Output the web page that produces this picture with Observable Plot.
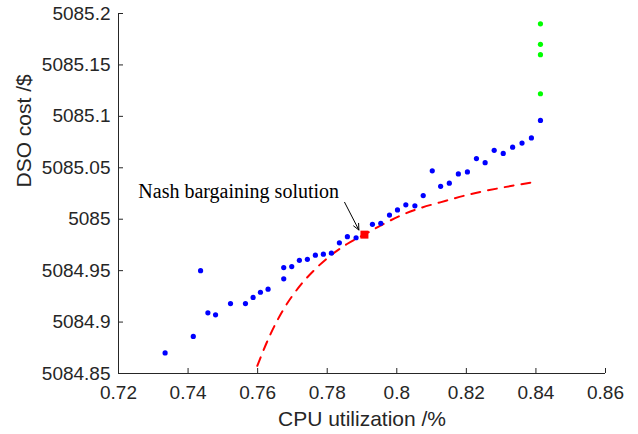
<!DOCTYPE html>
<html><head><meta charset="utf-8">
<script src="https://cdn.jsdelivr.net/npm/d3@7"></script>
<script src="https://cdn.jsdelivr.net/npm/@observablehq/plot@0.6"></script>
<style>body{margin:0;background:#fff;}</style>
</head><body><div id="chart"></div>
<script>
// Blue scatter (CPU utilization, DSO cost)
const blueX = [0.7334,0.7415,0.7436,0.7457,0.7479,0.7522,0.7565,0.7587,0.7608,0.7630,0.7675,0.7675,0.7698,0.7720,0.7743,0.7766,0.7789,0.7812,0.7835,0.7858,0.7883,0.7930,0.7954,0.7979,0.8002,0.8026,0.8052,0.8076,0.8102,0.8126,0.8151,0.8177,0.8203,0.8229,0.8254,0.8280,0.8306,0.8333,0.8360,0.8387,0.8413];
const blueY = [5084.870,5084.886,5084.950,5084.909,5084.907,5084.918,5084.918,5084.924,5084.929,5084.932,5084.942,5084.953,5084.954,5084.960,5084.961,5084.965,5084.966,5084.967,5084.977,5084.983,5084.982,5084.995,5084.996,5085.004,5085.009,5085.014,5085.013,5085.023,5085.047,5085.032,5085.035,5085.044,5085.046,5085.059,5085.055,5085.067,5085.064,5085.070,5085.074,5085.079,5085.096];
// Green points
const greenX = [0.8413,0.8413,0.8413,0.8413];
const greenY = [5085.122,5085.160,5085.170,5085.190];
// Red dashed curve
const curveX = [0.7599,0.7637,0.7675,0.7718,0.7766,0.7809,0.7857,0.7905,0.7953,0.8010,0.8068,0.8125,0.8206,0.8307,0.8396];
const curveY = [5084.8575,5084.8883,5084.9127,5084.9337,5084.9516,5084.9645,5084.9759,5084.9847,5084.9937,5085.0034,5085.0109,5085.0164,5085.0239,5085.0310,5085.0362];
// Nash bargaining solution
const nashX = [0.7907];
const nashY = [5084.985];
const annotationText = ["Nash bargaining solution"];
const annotationAt = [0.7257, 5085.021];
const arrowFrom = [0.7850, 5085.0164];
const arrowTo = [0.7891, 5084.9895];
// Ticks
const xTicks = [0.72,0.74,0.76,0.78,0.8,0.82,0.84,0.86];
const xTickLabels = ["0.72","0.74","0.76","0.78","0.8","0.82","0.84","0.86"];
const yTicks = [5084.85,5084.9,5084.95,5085,5085.05,5085.1,5085.15,5085.2];
const yTickLabels = ["5084.85","5084.9","5084.95","5085","5085.05","5085.1","5085.15","5085.2"];
const xLabel = "CPU utilization /%";
const yLabel = "DSO cost /$";

const blue = blueX.map((x,i)=>({x, y: blueY[i]}));
const green = greenX.map((x,i)=>({x, y: greenY[i]}));
const curve = curveX.map((x,i)=>({x, y: curveY[i]}));
const nash = nashX.map((x,i)=>({x, y: nashY[i]}));
const axisCol = "#262626";

const chart = Plot.plot({
  width: 638, height: 434,
  marginLeft: 118, marginRight: 33, marginTop: 13, marginBottom: 61,
  style: {fontFamily: "'Liberation Sans', Arial, sans-serif", fontSize: "19px", color: axisCol, background: "#fff"},
  x: {domain: [0.72, 0.86]},
  y: {domain: [5084.85, 5085.2]},
  marks: [
    Plot.ruleY([yTicks[0]], {stroke: axisCol, strokeWidth: 1}),
    Plot.ruleX([xTicks[0]], {stroke: axisCol, strokeWidth: 1}),
    Plot.axisX(xTicks, {tickSize: -5, tickPadding: 17, stroke: axisCol, fill: axisCol, tickFormat: d => xTickLabels[xTicks.indexOf(d)], label: null, fontSize: 19}),
    Plot.axisY(yTicks, {tickSize: -5, tickPadding: 13, stroke: axisCol, fill: axisCol, tickFormat: d => yTickLabels[yTicks.indexOf(d)], label: null, fontSize: 19}),
    Plot.text([xLabel], {frameAnchor: "bottom", dy: 46, fontSize: 21, fill: axisCol, lineAnchor: "middle"}),
    Plot.text([yLabel], {frameAnchor: "left", dx: -94, dy: -6, rotate: -90, fontSize: 21, fill: axisCol, lineAnchor: "middle"}),
    Plot.line(curve, {x: "x", y: "y", stroke: "#ff0000", strokeWidth: 2, strokeDasharray: "9,8", curve: "monotone-x"}),
    Plot.dot(blue, {x: "x", y: "y", r: 2.6, fill: "#0000ff"}),
    Plot.dot(green, {x: "x", y: "y", r: 2.6, fill: "#00ff00"}),
    Plot.dot(nash, {x: "x", y: "y", symbol: "square", r: 4.5, fill: "#ff0000"}),
    Plot.text(annotationText, {x: annotationAt[0], y: annotationAt[1], textAnchor: "start", lineAnchor: "bottom", fontFamily: "'Liberation Serif', 'Times New Roman', serif", fontSize: 20, fill: "#000"}),
    Plot.arrow([0], {x1: arrowFrom[0], y1: arrowFrom[1], x2: arrowTo[0], y2: arrowTo[1], stroke: "#000", strokeWidth: 1, headLength: 10, headAngle: 50})
  ]
});
document.getElementById("chart").appendChild(chart);
</script>
</body></html>
